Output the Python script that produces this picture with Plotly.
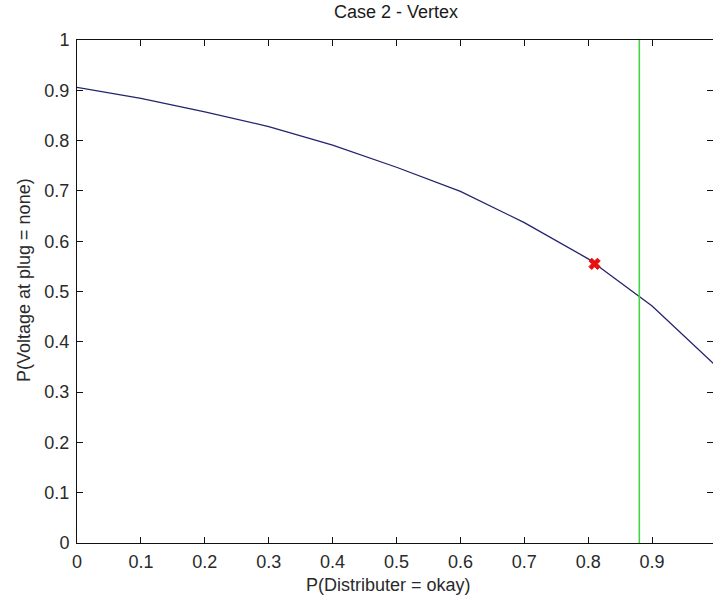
import plotly.graph_objects as go

# Data
p_distributer = [0.0, 0.1, 0.2, 0.3, 0.4, 0.5, 0.6, 0.7, 0.8, 0.9, 1.0]
p_voltage_none = [0.906, 0.884, 0.857, 0.828, 0.791, 0.747, 0.699, 0.637, 0.565, 0.471, 0.352]
vertex_x = [0.81]
vertex_y = [0.555]
threshold_x = 0.88
x_ticks = [0, 0.1, 0.2, 0.3, 0.4, 0.5, 0.6, 0.7, 0.8, 0.9]
x_tick_labels = ["0", "0.1", "0.2", "0.3", "0.4", "0.5", "0.6", "0.7", "0.8", "0.9"]
y_ticks = [0, 0.1, 0.2, 0.3, 0.4, 0.5, 0.6, 0.7, 0.8, 0.9, 1]
y_tick_labels = ["0", "0.1", "0.2", "0.3", "0.4", "0.5", "0.6", "0.7", "0.8", "0.9", "1"]

W, H = 713, 599
ML, MT, MB, MR = 77, 40, 56, 0
plot_w = W - ML - MR
FONT = "Liberation Sans, Arial, sans-serif"
FS = 18

fig = go.Figure()
fig.add_trace(go.Scatter(x=p_distributer, y=p_voltage_none, mode="lines",
                         line=dict(color="#23236e", width=1.3), showlegend=False))
fig.add_trace(go.Scatter(x=[threshold_x, threshold_x], y=[0, 1], mode="lines",
                         line=dict(color="#44d444", width=1.6), showlegend=False))
fig.add_trace(go.Scatter(x=vertex_x, y=vertex_y, mode="markers",
                         marker=dict(symbol="x", size=10, color="#e81010",
                                     line=dict(width=1, color="#e81010")),
                         showlegend=False))
# invisible trace for right-side mirrored ticks
fig.add_trace(go.Scatter(x=[0], y=[0], yaxis="y2", mode="markers",
                         marker=dict(opacity=0), showlegend=False, hoverinfo="skip"))

x_end = (W - 1 - ML) / 638.0

fig.update_layout(
    width=W, height=H,
    margin=dict(l=ML, r=MR, t=MT, b=MB),
    paper_bgcolor="white", plot_bgcolor="white",
    font=dict(family=FONT, size=FS, color="#2a2a2a"),
    title=dict(text="Case 2 - Vertex", x=(396 - ML) / plot_w, xref="paper", xanchor="center",
               y=1 - 12 / H, yref="container", yanchor="middle",
               font=dict(family=FONT, size=FS, color="#1a1a1a")),
    xaxis=dict(range=[0, x_end], tickvals=x_ticks, ticktext=x_tick_labels,
               showgrid=False, zeroline=False, showline=True, linecolor="#111111",
               linewidth=1, mirror="ticks", ticks="inside", ticklen=6,
               tickcolor="#111111", tickwidth=1, ticklabelstandoff=2),
    yaxis=dict(range=[0, 1], tickvals=y_ticks, ticktext=y_tick_labels,
               showgrid=False, zeroline=False, showline=True, linecolor="#111111",
               linewidth=1, mirror=False, ticks="inside", ticklen=6,
               tickcolor="#111111", tickwidth=1, ticklabelstandoff=3),
    yaxis2=dict(range=[0, 1], overlaying="y", side="right", tickvals=y_ticks,
                showticklabels=False, showgrid=False, zeroline=False, showline=False,
                ticks="inside", ticklen=6, tickcolor="#111111", tickwidth=1),
    annotations=[
        dict(text="P(Distributer = okay)", xref="paper", yref="paper",
             x=(388 - ML) / plot_w, y=0, yshift=-(585 - (H - MB)), xanchor="center",
             yanchor="middle", showarrow=False, font=dict(family=FONT, size=FS)),
        dict(text="P(Voltage at plug = none)", xref="paper", yref="paper",
             x=0, xshift=-(ML - 24), y=(H - MB - 280) / (H - MB - MT), xanchor="center",
             yanchor="middle", textangle=-90, showarrow=False,
             font=dict(family=FONT, size=FS)),
    ],
)

fig.write_html("out.html")
